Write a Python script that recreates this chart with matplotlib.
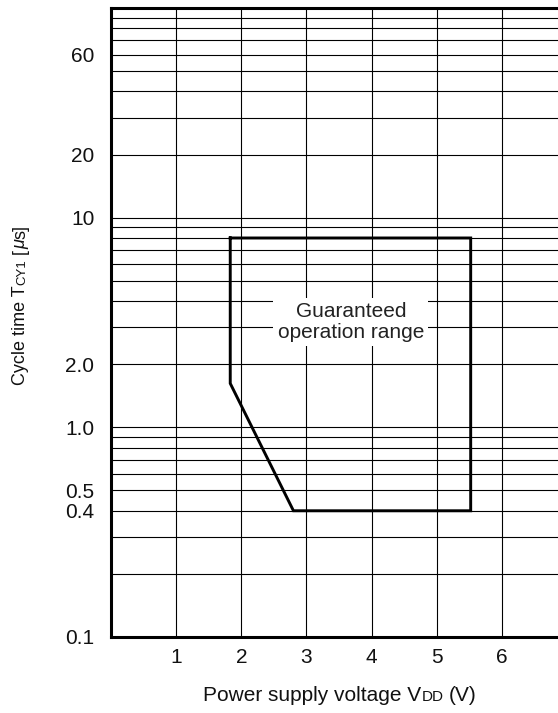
import matplotlib
matplotlib.use("Agg")
import matplotlib.pyplot as plt
from matplotlib.transforms import IdentityTransform

plt.rcParams['font.family'] = ['Liberation Sans', 'DejaVu Sans']

# ---- data ----
x_ticks = [1, 2, 3, 4, 5, 6]
y_tick_values = [0.1, 0.4, 0.5, 1.0, 2.0, 10, 20, 60]
y_tick_labels = ['0.1', '0.4', '0.5', '1.0', '2.0', '10', '20', '60']
grid_mantissas = [1, 2, 3, 4, 5, 6, 7, 8, 9]
grid_decades = [0.1, 1, 10]
range_vdd = [1.83, 5.52, 5.52, 2.8, 1.83, 1.83]   # V
range_tcy = [8.0, 8.0, 0.4, 0.4, 1.62, 8.0]       # us
x_limits = (0, 6.86)
y_limits = (0.1, 100)

W, H, DPI = 558, 713, 100
fig = plt.figure(figsize=(W / DPI, H / DPI), dpi=DPI)
left_px, right_px, top_px, bottom_px = 111, 558, 8, 637
ax = fig.add_axes([left_px / W, 1 - bottom_px / H,
                   (right_px - left_px) / W, (bottom_px - top_px) / H])
ax.set_yscale('log')
ax.set_xlim(*x_limits)
ax.set_ylim(*y_limits)

# grid
for d in grid_decades:
    for m in grid_mantissas:
        v = d * m
        if y_limits[0] < v < y_limits[1]:
            ax.axhline(v, color='black', lw=0.8, zorder=1)
for xv in x_ticks:
    ax.axvline(xv, color='black', lw=0.8, zorder=1)

# operation range
ax.plot(range_vdd, range_tcy, color='black', lw=2.1, solid_joinstyle='miter', zorder=3)

ax.text(3.68, 3.18, 'Guaranteed\noperation range', ha='center', va='center',
        fontsize=15, color='#222222', linespacing=1.1, zorder=4,
        bbox=dict(boxstyle='square,pad=0.2', fc='white', ec='none'))

# ticks
ax.set_xticks(x_ticks)
ax.set_xticklabels([str(v) for v in x_ticks])
ax.set_yticks(y_tick_values)
ax.set_yticklabels(y_tick_labels)
ax.yaxis.set_minor_locator(matplotlib.ticker.NullLocator())
ax.tick_params(axis='both', length=0, labelsize=15, colors='#111111')
ax.tick_params(axis='y', pad=12)
ax.tick_params(axis='x', pad=8)

for s in ['left', 'bottom', 'top']:
    ax.spines[s].set_linewidth(2.2)
    ax.spines[s].set_zorder(5)
ax.spines['right'].set_visible(False)

# ---- composite axis labels ----
renderer = fig.canvas.get_renderer()


def text_width(s, size, style='normal'):
    t = fig.text(0, 0, s, fontsize=size, fontstyle=style)
    w = t.get_window_extent(renderer).width
    t.remove()
    return w


def space_width(size):
    return text_width('a a', size) - text_width('aa', size)


def composite(segments, cx, cy, rotation=0):
    # segments: list of (text, size, style, space_before)
    widths = []
    for s, size, style, sp in segments:
        widths.append(text_width(s, size, style) + (space_width(size) if sp else 0))
    total = sum(widths)
    pos = -total / 2
    for (s, size, style, sp), w in zip(segments, widths):
        off = pos + (space_width(size) if sp else 0)
        if rotation == 0:
            x, y = cx + off, cy
        else:
            x, y = cx, cy + off
        fig.text(x, y, s, fontsize=size, fontstyle=style, rotation=rotation,
                 rotation_mode='anchor', ha='left', va='baseline',
                 transform=IdentityTransform(), color='#111111')
        pos += w


composite([('Power supply voltage V', 15, 'normal', False),
           ('DD', 11, 'normal', False),
           ('(V)', 15, 'normal', True)],
          340, H - 701)

composite([('Cycle time T', 13, 'normal', False),
           ('CY1', 9.5, 'normal', False),
           ('[', 13, 'normal', True),
           ('\u03bc', 13, 'italic', False),
           ('s]', 13, 'normal', False)],
          25, H - 305, rotation=90)

fig.savefig('out.png', dpi=DPI)
